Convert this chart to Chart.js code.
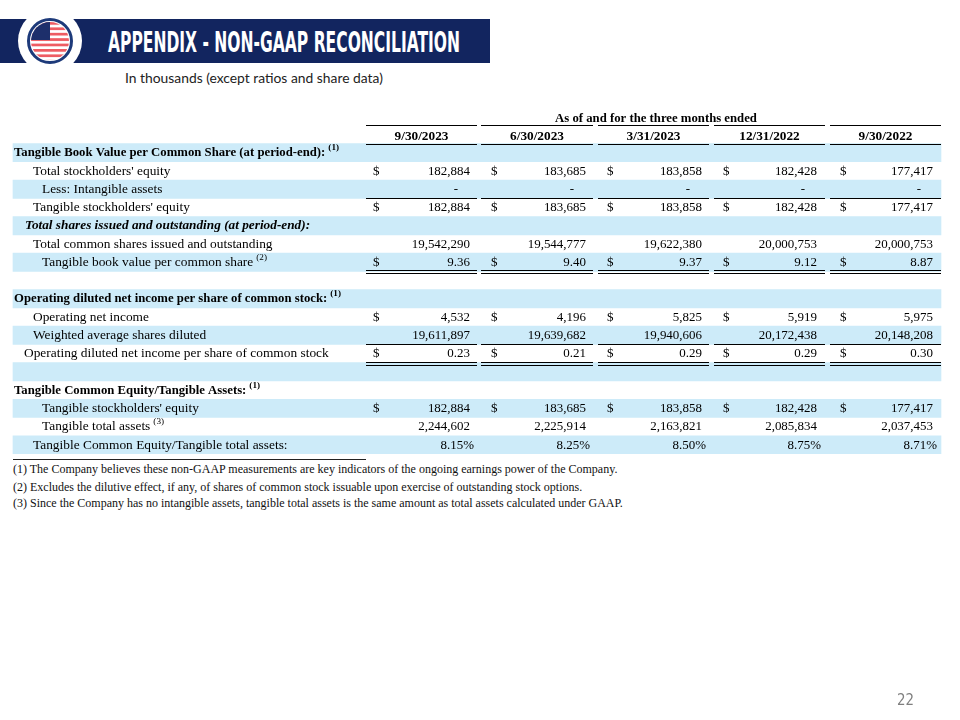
<!DOCTYPE html>
<html>
<head>
<meta charset="utf-8">
<script src="https://cdn.jsdelivr.net/npm/chart.js@4.4.1/dist/chart.umd.min.js"></script>
<style>
  html, body { margin: 0; padding: 0; background: #ffffff; }
  body { width: 960px; height: 720px; position: relative; overflow: hidden; }
  #header { position: absolute; left: 0; top: 0; }
  #subtitle { position: absolute; left: 125px; top: 70px; font: 13px Lato, "Open Sans", sans-serif; color: #222; white-space: nowrap;
              transform: scaleX(1.065); transform-origin: 0 0; }
  #tabla { position: absolute; left: 0; top: 107px; }
  #noteline { position: absolute; left: 13px; top: 459px; width: 353px; height: 0; border-top: 1px solid #222; }
  .nota { position: absolute; left: 13px; font: 12px/14px "Liberation Serif", serif; color: #111; white-space: nowrap; }
  #pagina { position: absolute; left: 0; top: 0; }
</style>
</head>
<body>
<svg id="header" width="500" height="90">
  <defs>
    <clipPath id="globo"><circle cx="50" cy="41" r="19"/></clipPath>
    <pattern id="righe" x="0" y="22" width="10" height="5.4" patternUnits="userSpaceOnUse">
      <rect x="0" y="0" width="10" height="2.9" fill="#ee5b62"/>
      <rect x="0" y="2.9" width="10" height="2.5" fill="#ffffff"/>
    </pattern>
  </defs>
  <rect x="0" y="19" width="490" height="44" fill="#12255f"/>
  <circle cx="50" cy="41" r="32" fill="#ffffff"/>
  <circle cx="50" cy="41" r="21.5" fill="none" stroke="#1d3a7a" stroke-width="3"/>
  <g clip-path="url(#globo)">
    <rect x="30" y="21" width="40" height="40" fill="url(#righe)"/>
    <rect x="30" y="21" width="20" height="19" fill="#1d2f6b"/>
  </g>
  <text x="108" y="52" textLength="352" lengthAdjust="spacingAndGlyphs" fill="#ffffff"
        font-family="Liberation Sans Narrow, DejaVu Sans Condensed, sans-serif" font-weight="bold" font-size="27.5">APPENDIX - NON-GAAP RECONCILIATION</text>
</svg>
<div id="subtitle">In thousands (except ratios and share data)</div>
<canvas id="tabla" width="960" height="347"></canvas>
<div id="noteline"></div>
<div class="nota" style="top:462px">(1) The Company believes these non-GAAP measurements are key indicators of the ongoing earnings power of the Company.</div>
<div class="nota" style="top:480px">(2) Excludes the dilutive effect, if any, of shares of common stock issuable upon exercise of outstanding stock options.</div>
<div class="nota" style="top:496px">(3) Since the Company has no intangible assets, tangible total assets is the same amount as total assets calculated under GAAP.</div>
<svg id="pagina" width="960" height="720">
  <text x="897" y="705" fill="#7f7f7f" font-family="DejaVu Sans Condensed, sans-serif" font-size="15" textLength="17" lengthAdjust="spacingAndGlyphs">22</text>
</svg>
<script>
const periodi = ["9/30/2023", "6/30/2023", "3/31/2023", "12/31/2022", "9/30/2022"];
const intestazioneGruppo = "As of and for the three months ended";

const patrimonioTotale = [182884, 183685, 183858, 182428, 177417];
const attivitaImmateriali = [0, 0, 0, 0, 0];
const patrimonioTangibile = [182884, 183685, 183858, 182428, 177417];
const azioniInCircolazione = [19542290, 19544777, 19622380, 20000753, 20000753];
const valoreContabilePerAzione = [9.36, 9.40, 9.37, 9.12, 8.87];
const utileOperativo = [4532, 4196, 5825, 5919, 5975];
const azioniDiluite = [19611897, 19639682, 19940606, 20172438, 20148208];
const utilePerAzione = [0.23, 0.21, 0.29, 0.29, 0.30];
const attivitaTangibili = [2244602, 2225914, 2163821, 2085834, 2037453];
const rapportoTce = [8.15, 8.25, 8.50, 8.75, 8.71];

const etichetteRighe = [
    "Tangible Book Value per Common Share (at period-end):",
    "Total stockholders' equity",
    "Less: Intangible assets",
    "Tangible stockholders' equity",
    "Total shares issued and outstanding (at period-end):",
    "Total common shares issued and outstanding",
    "Tangible book value per common share",
    "",
    "Operating diluted net income per share of common stock:",
    "Operating net income",
    "Weighted average shares diluted",
    "Operating diluted net income per share of common stock",
    "",
    "Tangible Common Equity/Tangible Assets:",
    "Tangible stockholders' equity",
    "Tangible total assets",
    "Tangible Common Equity/Tangible total assets:"
];
const noteRighe = ["(1)", "", "", "", "", "", "(2)", "", "(1)", "", "", "", "", "(1)", "", "(3)", ""];
const valoriRighe = [
    null, patrimonioTotale, attivitaImmateriali, patrimonioTangibile, null, azioniInCircolazione,
    valoreContabilePerAzione, null, null, utileOperativo, azioniDiluite, utilePerAzione, null,
    null, patrimonioTangibile, attivitaTangibili, rapportoTce
];
// tipo di formato: "int", "dec", "pct"
const formatoRighe = [null, "int", "int", "int", null, "int", "dec", null, null, "int", "int", "dec", null, null, "int", "int", "pct"];
const conDollaro = [false, true, false, true, false, false, true, false, false, true, false, true, false, false, true, false, false];

// impaginazione (solo posizioni e stili)
const rientro = [14, 33, 42, 33, 25, 33, 42, 0, 14, 33, 33, 24, 0, 14, 42, 42, 33];
const stile = ["b", "", "", "", "bi", "", "", "", "b", "", "", "", "", "b", "", "", ""];
const sottolineatura = [0, 0, 1, 0, 0, 0, 2, 0, 0, 0, 1, 2, 0, 0, 0, 0, 0];
const inizioColonna = [366, 481, 598, 714, 830];
const fineColonna = [477, 593, 709, 825, 941];
const posDollaro = [373, 491, 607, 723, 840];
const posValore = [470, 586, 702, 817, 933];
const bandaInizio = 13, bandaFine = 941;
const coloreBanda = "#cdebf9";
const FONT = '"Liberation Serif", "Times New Roman", serif';
const ALLARGA = 1.08;

const righeAsse = ["gruppo", "date"].concat(etichetteRighe.map((e, i) => "r" + i));
const datiBande = righeAsse.map((r, i) => (i >= 2 && (i - 2) % 2 === 0) ? [bandaInizio, bandaFine] : null);

function formatta(v, f) {
    if (f === "pct") return v.toFixed(2) + "%";
    if (f === "dec") return v.toFixed(2);
    if (v === 0) return "-";
    return v.toLocaleString("en-US");
}

function scrivi(ctx, testo, x, y) {
    ctx.save();
    ctx.translate(x, y);
    ctx.scale(ALLARGA, 1);
    ctx.fillText(testo, 0, 0);
    ctx.restore();
    return ctx.measureText(testo).width * ALLARGA;
}

const pluginTabella = {
    id: "tabella",
    afterDatasetsDraw(chart) {
        const ctx = chart.ctx;
        const x = chart.scales.x;
        const y = chart.scales.y;
        const banda = y.getPixelForValue(1) - y.getPixelForValue(0);
        ctx.save();
        ctx.fillStyle = "#000";
        ctx.strokeStyle = "#000";
        ctx.lineWidth = 1;
        ctx.textBaseline = "middle";

        // intestazioni
        const yg = y.getPixelForValue(0) + 2.5;
        ctx.font = "bold 11.8px " + FONT;
        ctx.textAlign = "center";
        scrivi(ctx, intestazioneGruppo, x.getPixelForValue(656), yg);
        const yd = y.getPixelForValue(1) + 2.5;
        ctx.font = "bold 12.3px " + FONT;
        periodi.forEach((p, c) => {
            const xc = (x.getPixelForValue(inizioColonna[c]) + x.getPixelForValue(fineColonna[c])) / 2;
            scrivi(ctx, p, xc, yd);
            [y.getPixelForValue(0) + banda / 2, y.getPixelForValue(1) + banda / 2].forEach(yl => {
                ctx.beginPath();
                ctx.moveTo(x.getPixelForValue(inizioColonna[c]), Math.round(yl) + 0.5);
                ctx.lineTo(x.getPixelForValue(fineColonna[c]), Math.round(yl) + 0.5);
                ctx.stroke();
            });
        });

        // righe
        etichetteRighe.forEach((etichetta, i) => {
            const yc = y.getPixelForValue(i + 2) + 0.5;
            const s = stile[i];
            const dim = s === "bi" ? 12.3 : (s === "b" ? 11.8 : 12.4);
            ctx.font = (s.includes("i") ? "italic " : "") + (s.includes("b") ? "bold " : "") + dim + "px " + FONT;
            ctx.textAlign = "left";
            const xl = x.getPixelForValue(rientro[i]);
            const w = scrivi(ctx, etichetta, xl, yc);
            if (noteRighe[i]) {
                ctx.font = (s.includes("b") ? "bold " : "") + "8.5px " + FONT;
                scrivi(ctx, noteRighe[i], xl + w + 3, yc - 5);
            }
            const valori = valoriRighe[i];
            if (!valori) return;
            ctx.font = "12px " + FONT;
            valori.forEach((v, c) => {
                if (conDollaro[i]) {
                    ctx.textAlign = "left";
                    scrivi(ctx, "$", x.getPixelForValue(posDollaro[c]), yc);
                }
                const testo = formatta(v, formatoRighe[i]);
                ctx.textAlign = "right";
                let xr = x.getPixelForValue(posValore[c]);
                if (testo === "-") xr -= 12;
                if (formatoRighe[i] === "pct") xr += 4;
                scrivi(ctx, testo, xr, yc);
            });
            const yb = y.getPixelForValue(i + 2) + banda / 2;
            if (sottolineatura[i] > 0) {
                periodi.forEach((p, c) => {
                    const a = x.getPixelForValue(inizioColonna[c]);
                    const b = x.getPixelForValue(fineColonna[c]);
                    const linee = sottolineatura[i] === 1 ? [Math.round(yb)] : [Math.round(yb) - 1, Math.round(yb) + 2];
                    linee.forEach(yl => {
                        ctx.beginPath();
                        ctx.moveTo(a, yl + 0.5);
                        ctx.lineTo(b, yl + 0.5);
                        ctx.stroke();
                    });
                });
            }
        });
        ctx.restore();
    }
};

new Chart(document.getElementById("tabla").getContext("2d"), {
    type: "bar",
    data: {
        labels: righeAsse,
        datasets: [{
            label: "bande",
            data: datiBande,
            backgroundColor: coloreBanda,
            borderWidth: 0,
            barPercentage: 1,
            categoryPercentage: 1
        }]
    },
    options: {
        indexAxis: "y",
        responsive: false,
        animation: false,
        layout: { padding: 0 },
        plugins: {
            legend: { display: false },
            tooltip: { enabled: false },
            title: { display: false }
        },
        scales: {
            x: { type: "linear", min: 0, max: 960, display: false },
            y: { type: "category", offset: true, display: false }
        }
    },
    plugins: [pluginTabella]
});
</script>
</body>
</html>
